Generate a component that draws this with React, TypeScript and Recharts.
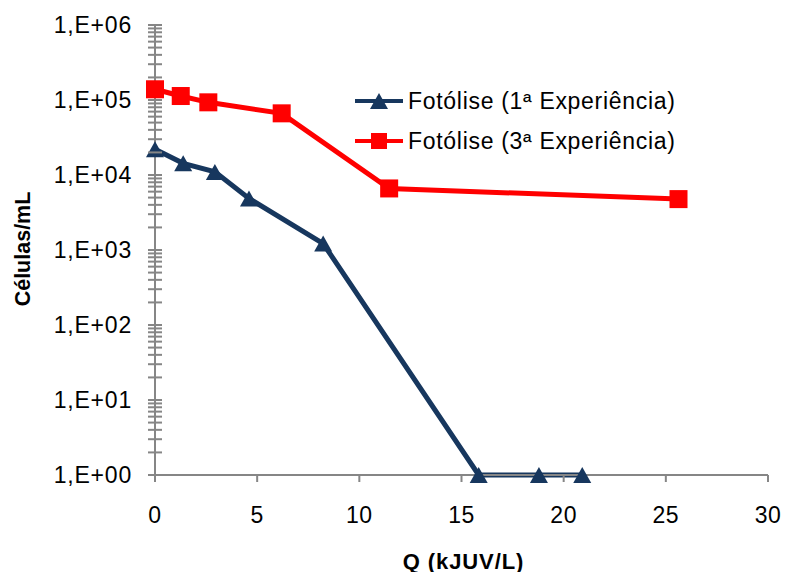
import React from 'react';
import { LineChart, Line, XAxis, YAxis } from 'recharts';

// Photolysis experiments: cell concentration vs. accumulated UV dose Q
const q1 = [0, 1.38, 2.93, 4.6, 8.23, 15.84, 18.79, 20.91];
const cells1 = [22000, 14300, 11000, 4870, 1220, 1, 1, 1];
const q3 = [0, 1.26, 2.61, 6.2, 11.46, 25.62];
const cells3 = [139000, 113000, 93100, 66400, 6620, 4770];

const seriesNames = ['Fotólise (1ª Experiência)', 'Fotólise (3ª Experiência)'];
const xTicks = [0, 5, 10, 15, 20, 25, 30];
const yMajorTicks = [1, 10, 100, 1000, 10000, 100000, 1000000];
const yTickLabels = ['1,E+00', '1,E+01', '1,E+02', '1,E+03', '1,E+04', '1,E+05', '1,E+06'];

const BLUE = '#17375E';
const RED = '#FF0000';
const AXIS = '#868686';
const FONT = '"Liberation Sans", Arial, sans-serif';

const exp1 = q1.map((q, i) => ({ q, v: cells1[i] }));
const exp3 = q3.map((q, i) => ({ q, v: cells3[i] }));

// majors plus 2..9 minor ticks inside each decade
const yAllTicks: number[] = [];
yMajorTicks.forEach((m, i) => {
  yAllTicks.push(m);
  if (i < yMajorTicks.length - 1) {
    for (let k = 2; k <= 9; k++) yAllTicks.push(m * k);
  }
});

const Triangle = (props: any) => {
  const { cx, cy, fill } = props;
  if (cx == null || cy == null) return null;
  const w = 18;
  const h = 16;
  return (
    <polygon
      points={`${cx - w / 2},${cy + h / 2} ${cx + w / 2},${cy + h / 2} ${cx},${cy - h / 2}`}
      fill={fill}
    />
  );
};

const Square = (props: any) => {
  const { cx, cy, fill } = props;
  if (cx == null || cy == null) return null;
  const s = 18;
  return <rect x={cx - s / 2} y={cy - s / 2} width={s} height={s} fill={fill} />;
};

const YTick = (props: any) => {
  const { x, y, payload } = props;
  const idx = yMajorTicks.indexOf(payload.value);
  return (
    <g>
      <line x1={x - 7} x2={x + 7} y1={y} y2={y} stroke={AXIS} strokeWidth={2} />
      {idx >= 0 && (
        <text
          x={x - 23}
          y={y}
          textAnchor="end"
          dominantBaseline="central"
          fontSize={23}
          letterSpacing={0.8}
          fontFamily={FONT}
          fill="#000"
        >
          {yTickLabels[idx]}
        </text>
      )}
    </g>
  );
};

const XTick = (props: any) => {
  const { x, y, payload } = props;
  return (
    <text
      x={x}
      y={y}
      dy="0.71em"
      textAnchor="middle"
      fontSize={23}
      letterSpacing={0.5}
      fontFamily={FONT}
      fill="#000"
    >
      {payload.value}
    </text>
  );
};

const YTitle = (props: any) => {
  const vb = props.viewBox || {};
  const cx = 23;
  const cy = (vb.y ?? 0) + (vb.height ?? 0) / 2 - 1;
  return (
    <text
      x={cx}
      y={cy}
      transform={`rotate(-90 ${cx} ${cy})`}
      textAnchor="middle"
      dominantBaseline="central"
      fontSize={21.5}
      fontWeight="bold"
      fontFamily={FONT}
      fill="#000"
    >
      Células/mL
    </text>
  );
};

const XTitle = (props: any) => {
  const vb = props.viewBox || {};
  const cx = (vb.x ?? 0) + (vb.width ?? 0) / 2 + 2;
  return (
    <text
      x={cx}
      y={561}
      textAnchor="middle"
      dominantBaseline="central"
      fontSize={22}
      letterSpacing={0.9}
      fontWeight="bold"
      fontFamily={FONT}
      fill="#000"
    >
      Q (kJUV/L)
    </text>
  );
};

const SeriesLegend = () => {
  const items = [
    { name: seriesNames[0], color: BLUE, shape: 'tri' },
    { name: seriesNames[1], color: RED, shape: 'sq' },
  ];
  return (
    <div style={{ position: 'absolute', left: 353, top: 81, fontFamily: FONT, fontSize: 23, letterSpacing: 0.7 }}>
      {items.map((it) => (
        <div key={it.name} style={{ display: 'flex', alignItems: 'center', height: 40 }}>
          <svg width={54} height={20} style={{ marginRight: 1 }}>
            <line x1={2} x2={50} y1={10} y2={10} stroke={it.color} strokeWidth={4} />
            {it.shape === 'tri' ? (
              <polygon points="17,18 35,18 26,2" fill={it.color} />
            ) : (
              <rect x={18} y={2} width={16} height={16} fill={it.color} />
            )}
          </svg>
          <span style={{ color: '#000', whiteSpace: 'nowrap' }}>{it.name}</span>
        </div>
      ))}
    </div>
  );
};

export default function App() {
  return (
    <div style={{ position: 'absolute', left: 0, top: 0, width: 786, height: 572, background: '#fff' }}>
      <LineChart width={786} height={572} margin={{ top: 25, right: 18, bottom: 0, left: 0 }}>
        <XAxis
          type="number"
          dataKey="q"
          domain={[0, 30]}
          ticks={xTicks}
          interval={0}
          height={97}
          axisLine={{ stroke: AXIS, strokeWidth: 2 }}
          tickLine={{ stroke: AXIS, strokeWidth: 2 }}
          tickSize={7}
          tickMargin={25}
          tick={<XTick />}
          label={<XTitle />}
        />
        <YAxis
          type="number"
          dataKey="v"
          scale="log"
          domain={[1, 1000000]}
          ticks={yAllTicks}
          interval={0}
          width={155}
          axisLine={{ stroke: AXIS, strokeWidth: 2 }}
          tickLine={false}
          tickSize={0}
          tickMargin={0}
          tick={<YTick />}
          label={<YTitle />}
        />
        <Line
          data={exp1}
          dataKey="v"
          name={seriesNames[0]}
          stroke={BLUE}
          strokeWidth={5}
          fill={BLUE}
          dot={<Triangle fill={BLUE} />}
          activeDot={false}
          isAnimationActive={false}
        />
        <Line
          data={exp3}
          dataKey="v"
          name={seriesNames[1]}
          stroke={RED}
          strokeWidth={5}
          fill={RED}
          dot={<Square fill={RED} />}
          activeDot={false}
          isAnimationActive={false}
        />
      </LineChart>
      <SeriesLegend />
    </div>
  );
}
